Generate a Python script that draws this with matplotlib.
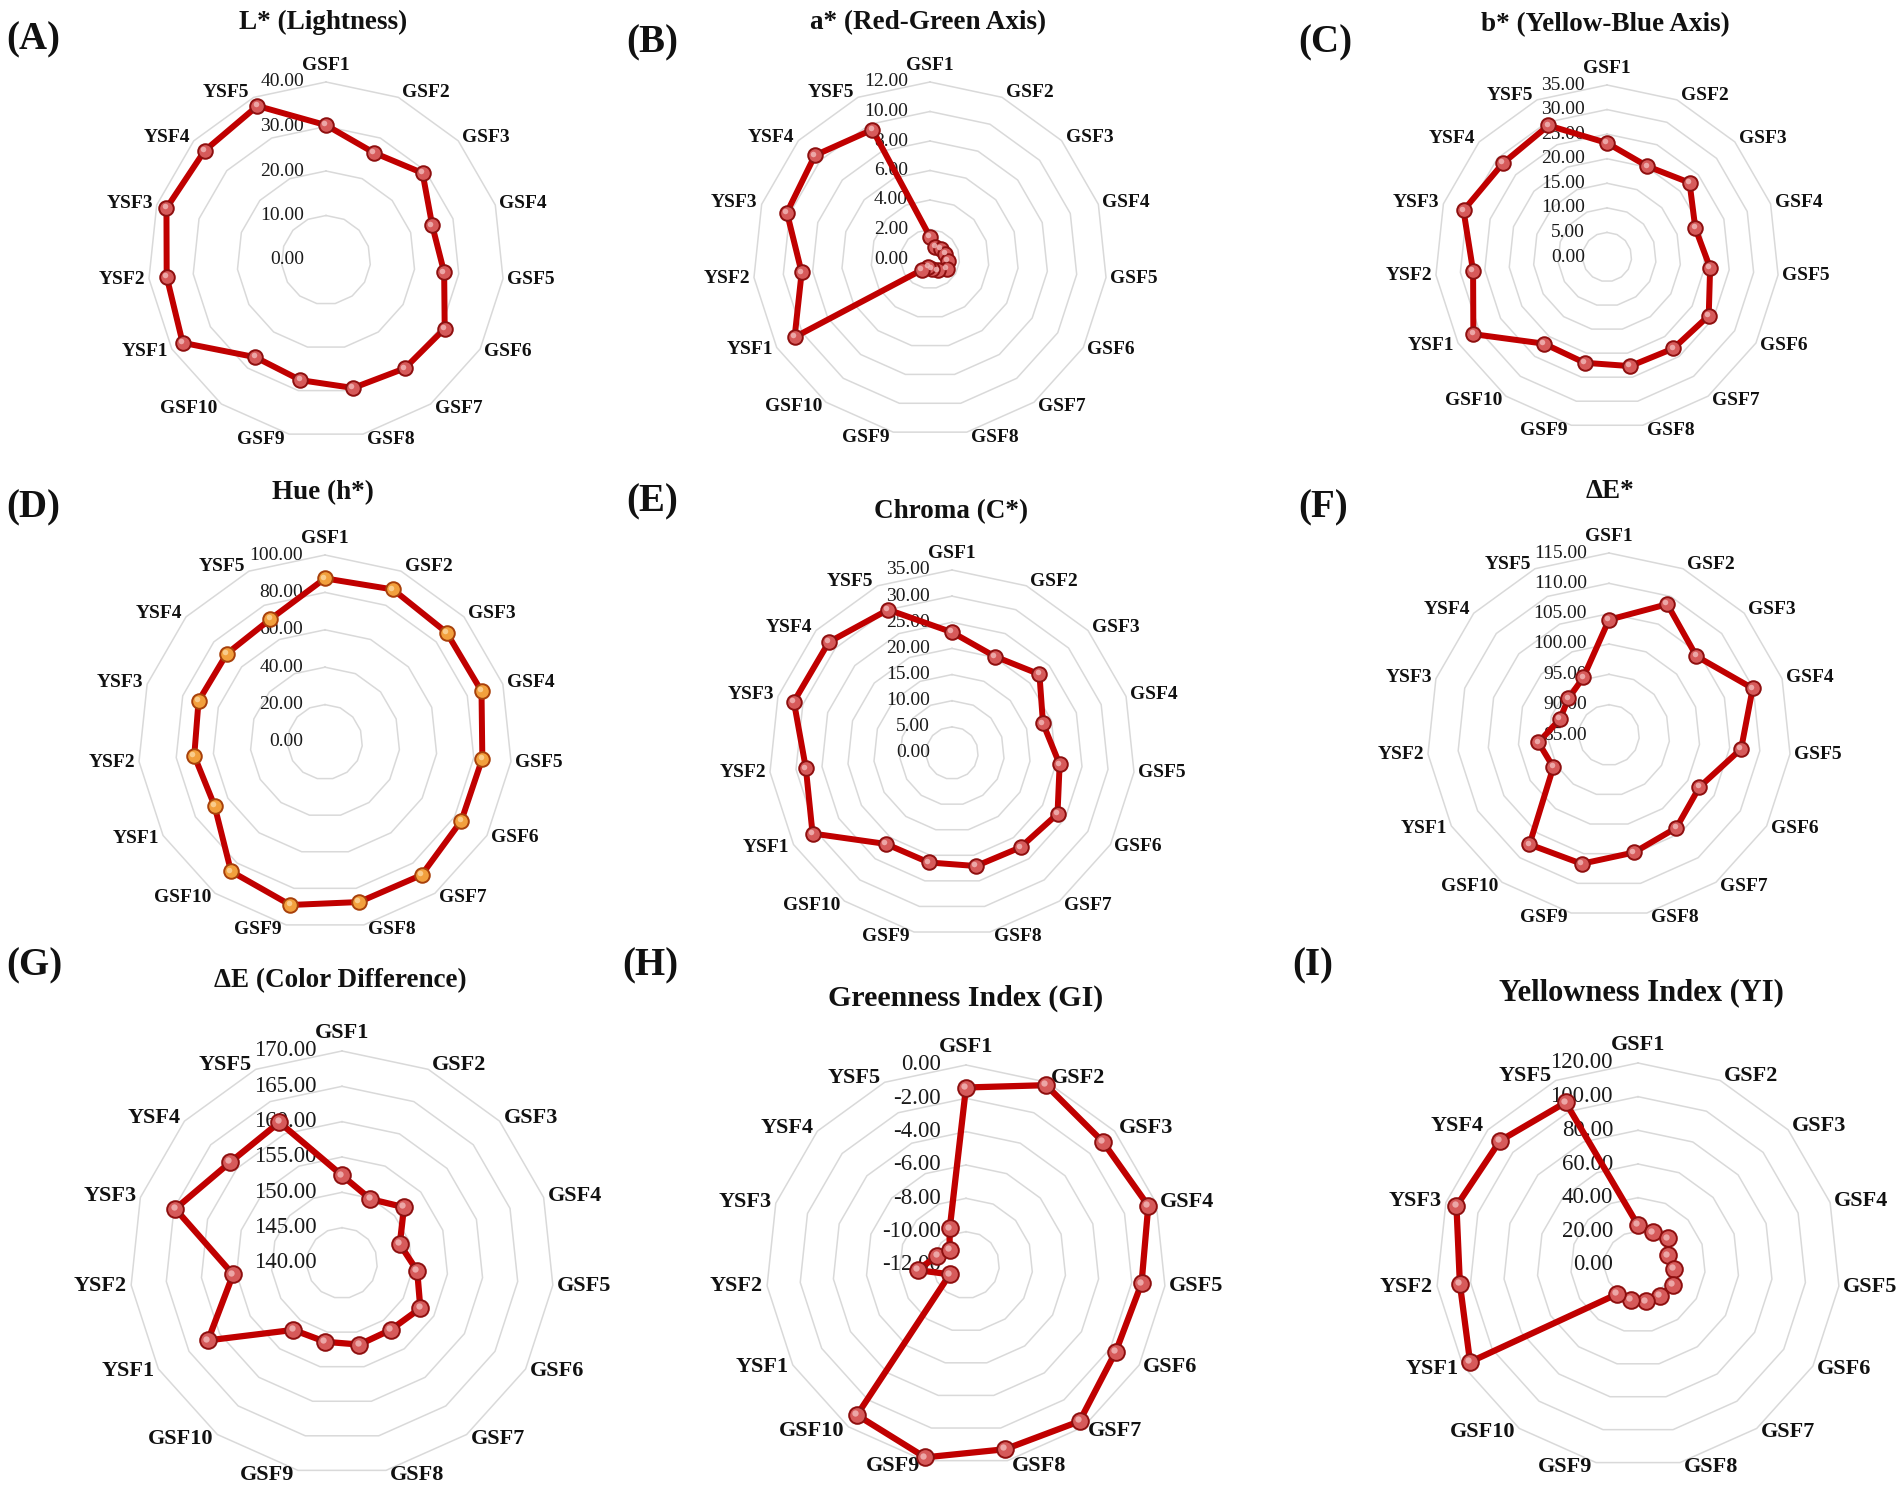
import numpy as np
import matplotlib
matplotlib.use("Agg")
import matplotlib.pyplot as plt
from matplotlib.transforms import offset_copy

plt.rcParams['font.family'] = ['Liberation Serif', 'DejaVu Serif']

categories = ['GSF1', 'GSF2', 'GSF3', 'GSF4', 'GSF5', 'GSF6', 'GSF7', 'GSF8',
              'GSF9', 'GSF10', 'YSF1', 'YSF2', 'YSF3', 'YSF4', 'YSF5']

L_star = [30.3, 26.4, 29.2, 25.1, 26.7, 30.8, 30.1, 29.4, 27.6, 27.0, 37.2, 36.0, 37.7, 36.7, 37.9]
a_star = [1.5, 0.9, 1.0, 1.1, 1.2, 1.3, 0.95, 0.7, 0.55, 0.9, 10.6, 8.75, 10.2, 10.5, 9.6]
b_star = [23.2, 20.2, 22.6, 18.9, 21.1, 23.9, 23.0, 22.7, 22.0, 21.8, 31.4, 27.4, 30.7, 28.5, 29.3]
hue = [87.5, 89.3, 87.5, 88.0, 84.6, 84.2, 87.9, 87.5, 89.1, 85.5, 68.2, 70.3, 71.1, 70.6, 71.9]
chroma = [23.1, 20.2, 22.5, 18.3, 20.7, 23.3, 22.3, 22.1, 21.4, 21.5, 30.8, 28.1, 31.8, 31.7, 30.0]
delta_e_star = [104.0, 108.6, 104.4, 109.9, 106.9, 102.2, 103.9, 104.8, 106.7, 107.3, 95.6, 96.7, 93.5, 94.0, 95.4]
delta_e = [152.4, 149.9, 151.8, 148.6, 150.7, 152.8, 151.7, 151.8, 151.4, 151.7, 161.9, 155.5, 164.8, 161.3, 161.8]
greenness = [-1.35, -0.19, -0.95, -0.5, -1.41, -1.62, -0.41, -0.7, -0.2, -0.87, -10.88, -9.08, -10.2, -10.67, -9.6]
yellowness = [23.6, 21.2, 23.6, 18.5, 21.3, 24.0, 22.4, 22.1, 21.3, 21.5, 115.2, 106.4, 113.4, 110.3, 105.7]

ticks_A = [0, 10, 20, 30, 40]
ticks_B = [0, 2, 4, 6, 8, 10, 12]
ticks_C = [0, 5, 10, 15, 20, 25, 30, 35]
ticks_D = [0, 20, 40, 60, 80, 100]
ticks_E = [0, 5, 10, 15, 20, 25, 30, 35]
ticks_F = [85, 90, 95, 100, 105, 110, 115]
ticks_G = [140, 145, 150, 155, 160, 165, 170]
ticks_H = [-12, -10, -8, -6, -4, -2, 0]
ticks_I = [0, 20, 40, 60, 80, 100, 120]

W, H = 1901, 1493
fig = plt.figure(figsize=(W / 100, H / 100), dpi=100)
fig.patch.set_facecolor('white')

LINE = '#c00000'
RED_FILL = '#d65a5a'
RED_EDGE = '#8e0f0f'
RED_HI = '#f0b4b4'
ORANGE_FILL = '#f2a03d'
ORANGE_EDGE = '#a8400a'
ORANGE_HI = '#fbd49a'

panels = [
    ('(A)', 'L* (Lightness)', L_star, ticks_A, 326, 260, 178, 1, (33, 40), (323, 22), 19.5),
    ('(B)', 'a* (Red-Green Axis)', a_star, ticks_B, 930, 259, 177, 1, (652, 43), (928, 23), 19.5),
    ('(C)', 'b* (Yellow-Blue Axis)', b_star, ticks_C, 1607, 257, 172, 1, (1325, 43), (1605, 25), 19.5),
    ('(D)', 'Hue (h*)', hue, ticks_D, 325, 742, 187, 2, (33, 508), (323, 493), 19.5),
    ('(E)', 'Chroma (C*)', chroma, ticks_E, 952, 753, 183, 2, (652, 502), (951, 512), 19.5),
    ('(F)', '\u0394E*', delta_e_star, ticks_F, 1609, 735, 182, 2, (1323, 508), (1610, 492), 19.5),
    ('(G)', '\u0394E (Color Difference)', delta_e, ticks_G, 342, 1263, 212, 3, (34, 966), (340, 981), 19.5),
    ('(H)', 'Greenness Index (GI)', greenness, ticks_H, 966, 1265, 200, 3, (650, 966), (966, 998), 21.5),
    ('(I)', 'Yellowness Index (YI)', yellowness, ticks_I, 1638, 1265, 202, 3, (1313, 966), (1641, 993), 22),
]

n = len(categories)
angles = np.arange(n) * 2 * np.pi / n
angles_closed = np.concatenate([angles, angles[:1]])

renderer = fig.canvas.get_renderer()

for letter, title, vals, ticks, cx, cy, R, row, lpos, tpos, title_fs in panels:
    big = row == 3
    cat_fs = 16 if big else 14
    val_fs = 16.5 if big else 14
    lw = 4.5 if big else 4.3
    ms = 12 if big else 10.5
    is_d = letter == '(D)'
    fill = ORANGE_FILL if is_d else RED_FILL
    edge = ORANGE_EDGE if is_d else RED_EDGE
    hi = ORANGE_HI if is_d else RED_HI

    ax = fig.add_axes([(cx - R) / W, 1 - (cy + R) / H, 2 * R / W, 2 * R / H],
                      projection='polar')
    ax.set_theta_zero_location('N')
    ax.set_theta_direction(-1)
    ax.set_ylim(ticks[0], ticks[-1])
    ax.grid(False)
    ax.set_xticks([])
    ax.set_yticks([])
    ax.spines['polar'].set_visible(False)
    ax.patch.set_alpha(0)

    # polygon rings
    for t in ticks[1:]:
        ax.plot(angles_closed, [t] * (n + 1), color='#d9d9d9', lw=1.1, zorder=1,
                clip_on=False)

    # value labels along the vertical axis
    for t in ticks:
        ax.annotate(f'{t:.2f}', xy=(0, t), xytext=(-22 if not big else -25, 0),
                    textcoords='offset pixels', ha='right', va='center',
                    fontsize=val_fs, color='#1a1a1a', zorder=2, annotation_clip=False)

    # data
    v = list(vals) + [vals[0]]
    ax.plot(angles_closed, v, color=LINE, lw=lw, zorder=3, clip_on=False,
            solid_joinstyle='round')
    ax.plot(angles, vals, linestyle='none', marker='o', ms=ms,
            markerfacecolor=fill, markeredgecolor=edge, markeredgewidth=1.4,
            zorder=4, clip_on=False)
    hi_tr = offset_copy(ax.transData, fig=fig, x=-1.3, y=1.3, units='points')
    ax.plot(angles, vals, linestyle='none', marker='o', ms=ms * 0.38,
            markerfacecolor=hi, markeredgecolor='none', alpha=0.85,
            zorder=5, clip_on=False, transform=hi_tr)

    # category labels (Excel-like placement next to each ring vertex)
    gap = 4
    for ang, lab in zip(angles, categories):
        txt = ax.annotate(lab, xy=(ang, ticks[-1]), xytext=(0, 0),
                          textcoords='offset pixels', ha='center', va='center',
                          fontsize=cat_fs, fontweight='bold', color='#111111',
                          annotation_clip=False)
        bb = txt.get_window_extent(renderer)
        hw, hh = bb.width / 2, bb.height / 2
        s, c = np.sin(ang), np.cos(ang)
        if abs(s) < 0.05:
            txt.xyann = (0, (8 + hh) * np.sign(c))
        else:
            txt.xyann = (np.sign(s) * (gap + hw), c * 5)

    fig.text(tpos[0] / W, 1 - tpos[1] / H, title, ha='center', va='center',
             fontsize=title_fs, fontweight='bold', color='#111111')
    fig.text(lpos[0] / W, 1 - lpos[1] / H, letter, ha='center', va='center',
             fontsize=28, fontweight='bold', color='#111111')

fig.savefig('out.png', dpi=100, facecolor='white')
